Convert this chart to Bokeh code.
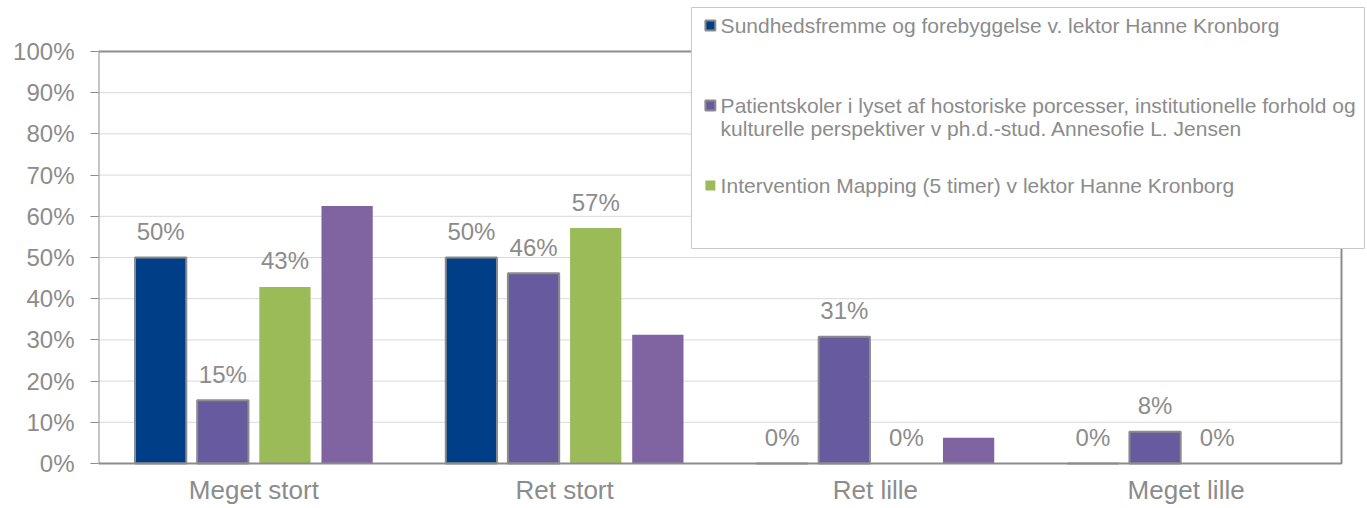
from bokeh.plotting import figure
from bokeh.models import (Range1d, FixedTicker, PrintfTickFormatter,
                          ColumnDataSource, Label, BoxAnnotation)
from bokeh.transform import dodge
from bokeh.core.properties import value
from bokeh.embed import file_html
from bokeh.resources import INLINE

categories = ["Meget stort", "Ret stort", "Ret lille", "Meget lille"]
series_names = [
    "Sundhedsfremme og forebyggelse v. lektor Hanne Kronborg",
    "Patientskoler i lyset af hostoriske porcesser, institutionelle forhold og",
    "kulturelle perspektiver v ph.d.-stud. Annesofie L. Jensen",
    "Intervention Mapping (5 timer) v lektor Hanne Kronborg",
]
s1 = [50.0, 50.0, 0.0, 0.0]
s2 = [15.38, 46.15, 30.77, 7.69]
s3 = [42.86, 57.14, 0.0, 0.0]
s4 = [62.5, 31.25, 6.25, 0.0]
y_ticks = [0, 10, 20, 30, 40, 50, 60, 70, 80, 90, 100]

colors = ["#003F87", "#675A9E", "#9BBB59", "#8064A2"]
borders = ["#8C8C8C", "#8C8C8C", None, None]
show_labels = [True, True, True, False]
offsets = [-0.3, -0.1, 0.1, 0.3]
GRAY = "#8C8C8C"
FONT = "Liberation Sans"

W, H = 1367, 508
LEFT, BOTTOM = 98, 36
PX_PER_PCT = 4.12       # vertical scale of the plot area
PX_PER_CAT = 310.75     # horizontal scale of the plot area
ZERO_Y = 463            # pixel row of 0%
frame_h = H - BOTTOM
x_end = (W - LEFT) / PX_PER_CAT
y_start = -(frame_h - ZERO_Y) / PX_PER_PCT
y_end = y_start + frame_h / PX_PER_PCT

p = figure(x_range=Range1d(0, x_end), y_range=Range1d(y_start, y_end),
           width=W, height=H, output_backend="svg", toolbar_location=None,
           min_border_left=LEFT, min_border_right=0, min_border_top=0, min_border_bottom=BOTTOM)
p.background_fill_color = "white"
p.border_fill_color = "white"
p.outline_line_color = None

centers = [i + 0.5 for i in range(len(categories))]
src_data = {"cat": categories, "xc": centers}
for i, s in enumerate([s1, s2, s3, s4]):
    src_data[f"v{i}"] = s
    src_data[f"l{i}"] = [f"{round(v):d}%" for v in s]
src = ColumnDataSource(src_data)

# horizontal gridlines inside the plot area only
p.segment(x0=0, x1=len(categories), y0=y_ticks, y1=y_ticks, line_color="#D9D9D9", line_width=1)

for i in range(4):
    p.vbar(x=dodge("xc", offsets[i]), top=f"v{i}", width=0.165,
           source=src, fill_color=colors[i], line_color=borders[i],
           line_width=2 if borders[i] else 0)
    if show_labels[i]:
        p.text(x=dodge("xc", offsets[i]), y=f"v{i}", text=f"l{i}",
               source=src, text_align="center", text_baseline="alphabetic", y_offset=-26,
               text_font=value(FONT), text_font_size="24px", text_color=GRAY)

# plot-area box
p.add_layout(BoxAnnotation(left=0, right=len(categories), bottom=0, top=100, fill_alpha=0,
                           line_color=GRAY, line_width=2, line_alpha=1, level="overlay"))

# axes
p.yaxis.ticker = FixedTicker(ticks=y_ticks)
p.yaxis.formatter = PrintfTickFormatter(format="%d%%")
p.yaxis.major_tick_out = 8
p.yaxis.major_tick_in = 0
p.yaxis.minor_tick_line_color = None
p.yaxis.major_tick_line_color = GRAY
p.yaxis.axis_line_color = None
p.yaxis.major_label_standoff = 16
p.yaxis.major_label_text_font = FONT
p.yaxis.major_label_text_font_size = "24px"
p.yaxis.major_label_text_color = GRAY

p.xaxis.ticker = FixedTicker(ticks=centers)
p.xaxis.major_label_overrides = {c: name for c, name in zip(centers, categories)}
p.xaxis.major_tick_line_color = None
p.xaxis.major_tick_out = 0
p.xaxis.major_tick_in = 0
p.xaxis.minor_tick_line_color = None
p.xaxis.axis_line_color = None
p.xaxis.major_label_standoff = 2
p.xaxis.major_label_text_font = FONT
p.xaxis.major_label_text_font_size = "26px"
p.xaxis.major_label_text_color = GRAY

p.xgrid.grid_line_color = None
p.ygrid.grid_line_color = None

# legend box overlapping the plot area (as in the original)
p.add_layout(BoxAnnotation(left=1.908, right=4.074, bottom=52.18, top=110.68,
                           fill_color="white", fill_alpha=1, line_color="#C8C8C8",
                           line_alpha=1, line_width=1, level="overlay"))
sq_y = [106.31, 86.89, 67.48]
txt_y = [106.31, 86.89, 81.31, 67.48]
sq_border = [GRAY, GRAY, None]
for k in range(3):
    p.add_layout(BoxAnnotation(left=1.953, right=1.985, bottom=sq_y[k] - 1.21, top=sq_y[k] + 1.21,
                               fill_color=colors[k], fill_alpha=1,
                               line_color=sq_border[k], line_alpha=1, line_width=2,
                               level="overlay"))
for k in range(4):
    p.add_layout(Label(x=2.002, y=txt_y[k], text=series_names[k], text_font=FONT,
                       text_font_size="21px", text_color=GRAY, text_baseline="middle",
                       level="overlay"))

open("out.html", "w").write(file_html(p, INLINE))
